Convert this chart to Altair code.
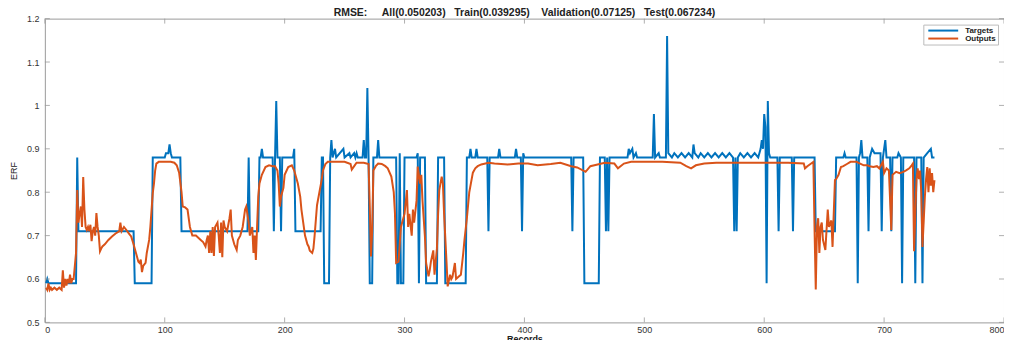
import altair as alt
import pandas as pd

# ---- data ----
target_rec = [1, 2, 3, 26, 27, 28, 74, 75, 89, 90, 100, 101, 103, 104, 105, 106, 113, 114,
              169, 170, 171, 178, 179, 180, 181, 182, 190, 191, 192, 193, 194, 196, 197, 198,
              207, 208, 209, 230, 231, 232, 233, 237, 238, 239, 240, 242, 243, 249, 250, 254,
              255, 258, 259, 260, 261, 265, 266, 267, 268, 269, 270, 271, 273, 274, 277, 278,
              279, 293, 294, 295, 296, 297, 299, 300, 310, 311, 312, 313, 317, 318, 327, 328,
              333, 334, 351, 352, 354, 355, 356, 359, 360, 361, 369, 370, 371, 378, 379, 380,
              392, 393, 394, 397, 398, 399, 400, 439, 440, 441, 449, 450, 462, 463, 467, 468,
              469, 470, 471, 486, 487, 488, 490, 491, 493, 494, 507, 508, 509, 512, 513, 518,
              519, 520, 523, 525, 528, 531, 534, 537, 540, 541, 542, 545, 547, 550, 553, 556,
              559, 562, 565, 568, 571, 574, 575, 576, 577, 578, 580, 583, 586, 589, 592, 595,
              597, 598, 599, 600, 601, 602, 603, 604, 605, 611, 612, 613, 623, 624, 625, 641,
              642, 643, 659, 660, 666, 667, 668, 677, 678, 679, 680, 681, 682, 686, 687, 688,
              690, 692, 697, 698, 699, 701, 702, 705, 706, 707, 711, 712, 714, 715, 716, 725,
              726, 727, 731, 732, 733, 736, 739, 740, 742]
target_val = [0.59, 0.60, 0.59, 0.59, 0.88, 0.71, 0.71, 0.59, 0.59, 0.88, 0.88, 0.89, 0.89, 0.91, 0.89, 0.88, 0.88, 0.71,
              0.71, 0.88, 0.71, 0.71, 0.88, 0.88, 0.90, 0.88, 0.88, 0.71, 0.88, 1.01, 0.88, 0.88, 0.71, 0.88,
              0.88, 0.90, 0.71, 0.71, 0.88, 0.88, 0.59, 0.59, 0.88, 0.92, 0.88, 0.90, 0.88, 0.90, 0.88, 0.89,
              0.88, 0.89, 0.88, 0.89, 0.88, 0.88, 0.92, 0.88, 0.88, 1.04, 0.88, 0.59, 0.59, 0.88, 0.88, 0.92,
              0.88, 0.88, 0.59, 0.59, 0.89, 0.59, 0.59, 0.88, 0.88, 0.89, 0.59, 0.88, 0.88, 0.59, 0.59, 0.88,
              0.88, 0.59, 0.59, 0.88, 0.88, 0.90, 0.88, 0.88, 0.90, 0.88, 0.88, 0.71, 0.88, 0.88, 0.90, 0.88,
              0.88, 0.90, 0.88, 0.88, 0.71, 0.89, 0.88, 0.88, 0.71, 0.88, 0.88, 0.59, 0.59, 0.88, 0.88, 0.71,
              0.88, 0.71, 0.88, 0.88, 0.90, 0.89, 0.90, 0.88, 0.89, 0.88, 0.88, 0.98, 0.88, 0.89, 0.88, 0.88,
              1.16, 0.89, 0.88, 0.89, 0.88, 0.89, 0.88, 0.89, 0.88, 0.91, 0.89, 0.88, 0.89, 0.88, 0.89, 0.88,
              0.89, 0.88, 0.89, 0.88, 0.89, 0.88, 0.71, 0.88, 0.71, 0.88, 0.89, 0.88, 0.89, 0.88, 0.89, 0.88,
              0.90, 0.92, 0.90, 0.98, 0.95, 0.59, 1.01, 0.89, 0.88, 0.88, 0.71, 0.88, 0.88, 0.71, 0.88, 0.88,
              0.88, 0.71, 0.71, 0.88, 0.88, 0.89, 0.88, 0.88, 0.59, 0.88, 0.89, 0.92, 0.88, 0.88, 0.71, 0.88,
              0.90, 0.89, 0.89, 0.71, 0.88, 0.92, 0.88, 0.88, 0.71, 0.88, 0.88, 0.89, 0.88, 0.59, 0.88, 0.88,
              0.59, 0.88, 0.88, 0.59, 0.88, 0.89, 0.90, 0.88, 0.88]

output_rec = [1, 2, 3, 4, 5, 6, 8, 10, 12, 14, 15, 16, 17, 18, 19, 20, 21, 22, 23, 24, 25, 26, 27, 28, 29,
              30, 31, 32, 33, 34, 35, 36, 37, 38, 39, 40, 41, 42, 43, 44, 45, 46, 47, 48, 50, 53, 56, 59,
              62, 63, 64, 66, 68, 70, 72, 74, 76, 78, 79, 80, 81, 82, 84, 85, 87, 88, 90, 91, 92, 93, 95,
              100, 105, 108, 110, 112, 114, 115, 117, 119, 121, 123, 126, 128, 130, 132, 134, 135, 136,
              137, 138, 139, 140, 141, 142, 144, 145, 146, 147, 148, 149, 150, 152, 154, 155, 156, 158,
              160, 161, 163, 165, 167, 168, 170, 171, 173, 174, 175, 176, 177, 178, 179, 181, 184, 187,
              190, 192, 194, 195, 196, 197, 199, 200, 203, 206, 208, 211, 213, 214, 217, 219, 220, 221,
              223, 224, 225, 227, 229, 231, 232, 234, 236, 245, 250, 255, 256, 258, 260, 266, 270, 271,
              272, 273, 274, 276, 278, 281, 284, 286, 289, 291, 292, 293, 295, 296, 297, 299, 300, 302,
              303, 304, 306, 307, 308, 310, 311, 313, 314, 315, 317, 318, 320, 321, 322, 324, 325, 327,
              328, 329, 331, 332, 333, 335, 336, 338, 339, 340, 342, 343, 345, 347, 349, 350, 352, 353,
              354, 356, 357, 359, 361, 364, 370, 375, 386, 395, 403, 411, 422, 430, 439, 444, 451, 455,
              461, 467, 475, 478, 483, 489, 500, 515, 530, 535, 539, 543, 550, 560, 580, 600, 620, 633,
              634, 636, 640, 641, 642, 643, 644, 645, 646, 647, 648, 649, 651, 653, 654, 656, 657, 659,
              660, 662, 664, 666, 669, 672, 677, 680, 683, 686, 688, 691, 694, 696, 698, 699, 700, 702,
              704, 706, 707, 710, 713, 716, 718, 721, 723, 724, 725, 727, 728, 729, 730, 731, 732, 734,
              735, 736, 737, 738, 739, 740, 741, 742]
output_val = [0.58, 0.575, 0.59, 0.575, 0.58, 0.575, 0.58, 0.575, 0.58, 0.575, 0.62, 0.58, 0.60, 0.585, 0.60,
              0.59, 0.61, 0.59, 0.60, 0.60, 0.63, 0.66, 0.805, 0.73, 0.75,
              0.767, 0.72, 0.835, 0.76, 0.72, 0.713, 0.72, 0.71, 0.725, 0.687, 0.71, 0.72, 0.70, 0.752, 0.72,
              0.70, 0.664, 0.67, 0.675, 0.68, 0.69, 0.698, 0.705,
              0.71, 0.73, 0.71, 0.72, 0.713, 0.705, 0.698, 0.68, 0.66, 0.64, 0.637, 0.645, 0.616, 0.63, 0.637,
              0.66, 0.69, 0.72, 0.798, 0.82, 0.85, 0.866, 0.87,
              0.87, 0.87, 0.868, 0.862, 0.845, 0.80, 0.767, 0.765, 0.76, 0.72, 0.70, 0.70, 0.695, 0.69, 0.685,
              0.675, 0.69, 0.70,
              0.66, 0.71, 0.66, 0.72, 0.653, 0.72, 0.73, 0.70, 0.66, 0.73, 0.65, 0.735, 0.72, 0.71, 0.74, 0.76,
              0.70, 0.68,
              0.667, 0.69, 0.70, 0.72, 0.76, 0.767, 0.73, 0.70, 0.72, 0.66, 0.70, 0.644, 0.72, 0.79, 0.82,
              0.84, 0.858, 0.862,
              0.86, 0.86, 0.85, 0.82, 0.767, 0.79, 0.81, 0.84, 0.858, 0.862, 0.85, 0.82, 0.79, 0.76, 0.70, 0.68,
              0.675, 0.665,
              0.66, 0.67, 0.70, 0.77, 0.80, 0.83, 0.85, 0.865, 0.87, 0.87, 0.87, 0.865, 0.852, 0.86, 0.868,
              0.868, 0.865, 0.767,
              0.652, 0.71, 0.85, 0.86, 0.866, 0.865, 0.86, 0.855, 0.836, 0.80, 0.752, 0.637, 0.64, 0.68, 0.72,
              0.74, 0.75, 0.805,
              0.72, 0.75, 0.70, 0.76, 0.73, 0.78, 0.859, 0.82, 0.84, 0.78, 0.698, 0.637, 0.606, 0.62, 0.64,
              0.666, 0.61, 0.67,
              0.75, 0.805, 0.836, 0.82, 0.75, 0.64, 0.583, 0.61, 0.60, 0.605, 0.637, 0.60, 0.605, 0.61, 0.66,
              0.69, 0.74, 0.77,
              0.80, 0.83, 0.845, 0.855, 0.86, 0.864, 0.868, 0.866, 0.864, 0.866, 0.866, 0.862, 0.865, 0.868,
              0.86, 0.857, 0.847, 0.86,
              0.864, 0.868, 0.866, 0.855, 0.866, 0.87, 0.87, 0.87, 0.868, 0.86, 0.855, 0.862, 0.866, 0.868,
              0.868, 0.868, 0.868, 0.866,
              0.855, 0.86, 0.868, 0.87, 0.713, 0.576, 0.72, 0.74, 0.66, 0.72, 0.73, 0.69, 0.667, 0.76, 0.72,
              0.735, 0.674, 0.828,
              0.83, 0.84, 0.858, 0.86, 0.865, 0.87, 0.87, 0.866, 0.862, 0.862, 0.86, 0.858, 0.86, 0.855, 0.865,
              0.87, 0.844, 0.855,
              0.85, 0.713, 0.84, 0.847, 0.844, 0.847, 0.85, 0.855, 0.862, 0.866, 0.664, 0.83, 0.855, 0.83,
              0.85, 0.80, 0.674, 0.79,
              0.83, 0.858, 0.80, 0.855, 0.815, 0.844, 0.80, 0.828]

x_ticks = [0, 100, 200, 300, 400, 500, 600, 700, 800]
y_ticks = [0.5, 0.6, 0.7, 0.8, 0.9, 1.0, 1.1, 1.2]

NB = "\u00a0"
title_text = ("RMSE:" + NB * 5 + "All(0.050203)" + NB * 3 + "Train(0.039295)" + NB * 4
              + "Validation(0.07125)" + NB * 3 + "Test(0.067234)")
series_names = ["Targets", "Outputs"]
series_colors = ["#0072BD", "#D95319"]

W, H = 963, 305
FONT = "Liberation Sans"
BOX = "#9a9a9a"

df_t = pd.DataFrame({"rec": target_rec, "val": target_val, "series": "Targets"})
df_o = pd.DataFrame({"rec": output_rec, "val": output_val, "series": "Outputs"})
df_xt = pd.DataFrame({"rec": x_ticks})
df_yt = pd.DataFrame({"val": y_ticks})

xscale = alt.Scale(domain=[0, 800], nice=False, zero=False)
yscale = alt.Scale(domain=[0.5, 1.2], nice=False, zero=False)
color = alt.Color(
    "series:N",
    scale=alt.Scale(domain=series_names, range=series_colors),
    legend=alt.Legend(
        title=None, orient="top-right", offset=6, symbolType="M-5,0H5",
        symbolStrokeWidth=2, symbolSize=36, symbolOffset=14,
        labelFontSize=8, labelFont=FONT, labelFontWeight="bold", labelColor="#222",
        labelOffset=18, strokeColor="#bbb", fillColor="white",
        padding=2, rowPadding=-3,
    ),
)

x_enc = alt.X("rec:Q", scale=xscale,
              axis=alt.Axis(values=x_ticks, title="Records", ticks=False, domain=False,
                            grid=False, labelPadding=3, titlePadding=0))
y_enc = alt.Y("val:Q", scale=yscale,
              axis=alt.Axis(values=y_ticks, format="~g", title="ERF", ticks=False,
                            domain=False, grid=False, labelPadding=6, titlePadding=8))

line_t = alt.Chart(df_t).mark_line(strokeWidth=2, clip=True).encode(x=x_enc, y=y_enc, color=color)
line_o = alt.Chart(df_o).mark_line(strokeWidth=2, clip=True).encode(
    x=alt.X("rec:Q", scale=xscale), y=alt.Y("val:Q", scale=yscale), color=color)

tick_style = dict(color=BOX, strokeWidth=0.8)
xt_bot = alt.Chart(df_xt).mark_rule(**tick_style).encode(
    x=alt.X("rec:Q", scale=xscale), y=alt.value(H), y2=alt.value(H - 5))
xt_top = alt.Chart(df_xt).mark_rule(**tick_style).encode(
    x=alt.X("rec:Q", scale=xscale), y=alt.value(0), y2=alt.value(5))
yt_left = alt.Chart(df_yt).mark_rule(**tick_style).encode(
    y=alt.Y("val:Q", scale=yscale), x=alt.value(0), x2=alt.value(5))
yt_right = alt.Chart(df_yt).mark_rule(**tick_style).encode(
    y=alt.Y("val:Q", scale=yscale), x=alt.value(W), x2=alt.value(W - 5))

chart = alt.layer(line_t, line_o, xt_bot, xt_top, yt_left, yt_right).properties(
    width=W, height=H,
    title=alt.TitleParams(title_text, fontSize=10.5, font=FONT, fontWeight="bold",
                          color="#222", offset=0, dy=4, anchor="middle"),
    autosize=alt.AutoSizeParams(type="none"),
    padding={"left": 37, "top": 10, "right": 0, "bottom": 17},
).configure_view(stroke=BOX, strokeWidth=1).configure_axis(
    labelFont=FONT, labelFontSize=9, labelColor="#333",
    titleFont=FONT, titleFontSize=9, titleColor="#222", titleFontWeight="bold",
).configure_axisY(titleFontWeight="normal")

chart.save("out.html", embed_options={"renderer": "svg", "actions": False})
